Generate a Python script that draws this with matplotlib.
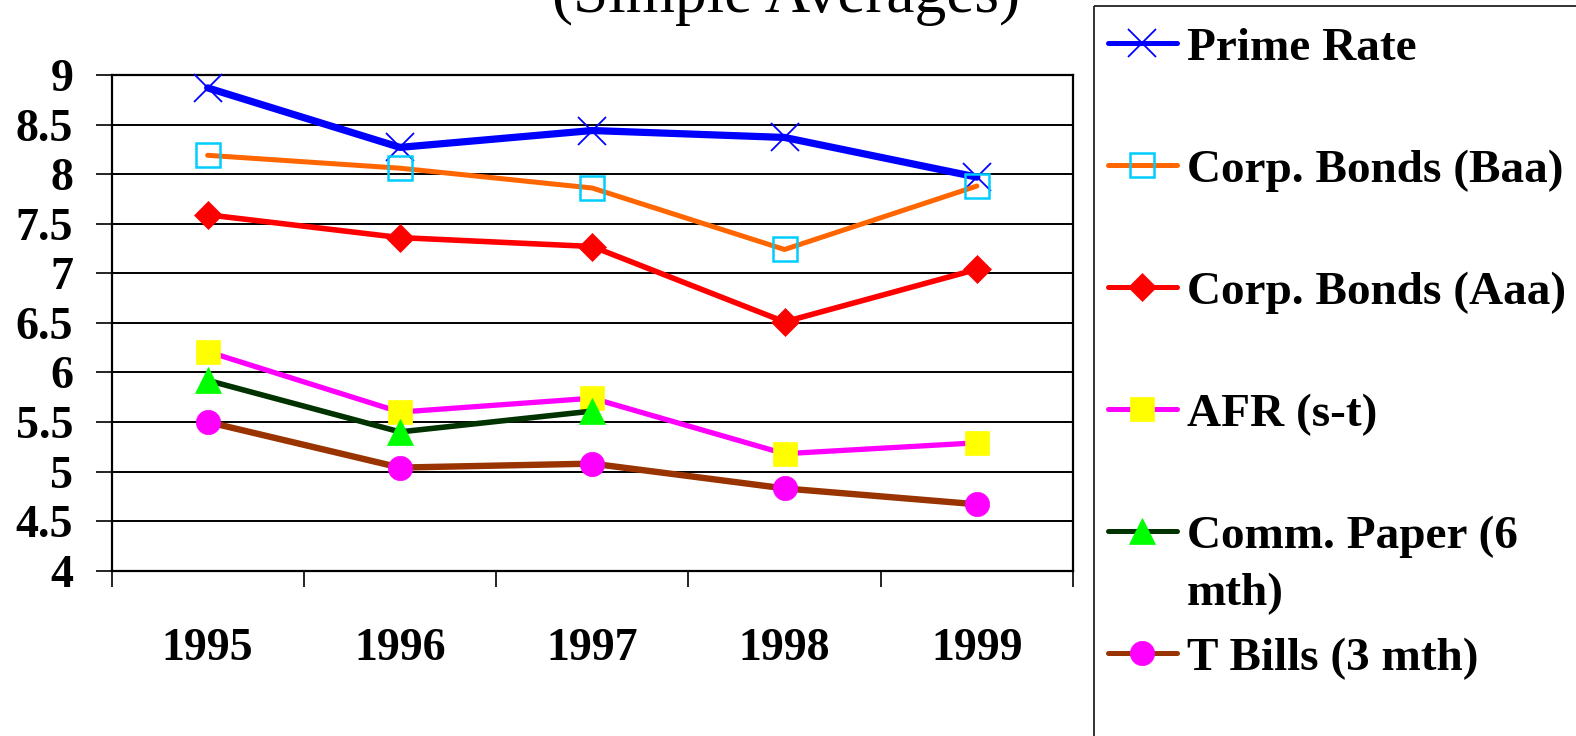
import numpy as np
import matplotlib
matplotlib.use('Agg')
import matplotlib.pyplot as plt
from matplotlib.patches import Rectangle

# data
years = ['1995', '1996', '1997', '1998', '1999']
prime_rate = [8.87, 8.27, 8.44, 8.37, 7.97]
baa_bonds = [8.19, 8.06, 7.86, 7.24, 7.88]
aaa_bonds = [7.59, 7.36, 7.27, 6.51, 7.04]
afr_st = [6.21, 5.60, 5.74, 5.18, 5.29]
comm_paper = [5.92, 5.40, 5.61, np.nan, np.nan]
t_bills = [5.50, 5.04, 5.08, 4.83, 4.67]

labels = ['Prime Rate', 'Corp. Bonds (Baa)', 'Corp. Bonds (Aaa)', 'AFR (s-t)',
          'Comm. Paper (6\nmth)', 'T Bills (3 mth)']
title = '(Simple Averages)'

# style per series: line colour, marker, marker size, face, edge, line width
styles = [
    dict(color='#0000FF', marker='x', ms=19.5, mfc='none', mec='#0000FF', mew=1.3, lw=5.2),
    dict(color='#FF6600', marker='s', ms=17, mfc='none', mec='#00CCFF', mew=1.8, lw=3.6),
    dict(color='#FF0000', marker='D', ms=14, mfc='#FF0000', mec='#FF0000', mew=0.5, lw=4.0),
    dict(color='#FF00FF', marker='s', ms=17.5, mfc='#FFFF00', mec='#FFFF00', mew=0.5, lw=3.8),
    dict(color='#003300', marker='^', ms=18.5, mfc='#00FF00', mec='#00FF00', mew=0.5, lw=4.0),
    dict(color='#993300', marker='o', ms=17.5, mfc='#FF00FF', mec='#FF00FF', mew=0.5, lw=4.6),
]
series = [prime_rate, baa_bonds, aaa_bonds, afr_st, comm_paper, t_bills]

W, H = 1576, 736
fig = plt.figure(figsize=(W / 100, H / 100), dpi=100)
fig.patch.set_facecolor('white')

ax = fig.add_axes([111.5 / W, 1 - 570.7 / H, (1073 - 111.5) / W, (570.7 - 75) / H])
x = np.arange(len(years))
for i, (vals, st) in enumerate(zip(series, styles)):
    ax.plot(x, vals, color=st['color'], lw=st['lw'], marker=st['marker'],
            ms=st['ms'], mfc=st['mfc'], mec=st['mec'], mew=st['mew'],
            solid_capstyle='round', solid_joinstyle='round', zorder=3 + i,
            clip_on=False)

ax.set_xlim(-0.5, len(years) - 0.5)
ax.set_ylim(4, 9)
ax.set_yticks(np.arange(4, 9.01, 0.5))
ax.set_yticklabels(['4', '4.5', '5', '5.5', '6', '6.5', '7', '7.5', '8', '8.5', '9'])
ax.yaxis.grid(True, color='black', lw=1.4)
ax.set_axisbelow(True)

ax.set_xticks(x)
ax.set_xticklabels(years)
ax.set_xticks(np.arange(-0.5, len(years), 1.0), minor=True)
ax.tick_params(axis='x', which='major', length=0, pad=41)
ax.tick_params(axis='x', which='minor', length=11.5, width=1.2, direction='out')
ax.tick_params(axis='y', length=11.5, width=1.2, pad=16, direction='out')

for lab in ax.get_xticklabels() + ax.get_yticklabels():
    lab.set_fontfamily('Liberation Serif')
    lab.set_fontweight('bold')
    lab.set_fontsize(33)

for sp in ax.spines.values():
    sp.set_color('black')
    sp.set_linewidth(1.6)

# title, cut off at the top edge as in the source
fig.text(786.5 / W, 1 - 12.5 / H, title, ha='center', va='baseline',
         fontfamily='Liberation Serif', fontsize=45.5)

# legend box, drawn in pixel coordinates
lax = fig.add_axes([0, 0, 1, 1])
lax.set_xlim(0, W)
lax.set_ylim(H, 0)
lax.axis('off')
lax.add_patch(Rectangle((1094, 6), 600, 800, fill=False, ec='#222222', lw=1.3))

row_y = [42.7, 164.8, 286.9, 409, 531, 653]
for lab, st, ry in zip(labels, styles, row_y):
    lax.plot([1108, 1177], [ry, ry], color=st['color'], lw=3.6,
             solid_capstyle='round')
    lax.plot([1142.5], [ry], marker=st['marker'], ms=st['ms'], mfc=st['mfc'],
             mec=st['mec'], mew=st['mew'], ls='none')
    for k, part in enumerate(lab.split('\n')):
        lax.text(1187, ry + 17.5 + 57 * k, part, ha='left', va='baseline',
                 fontfamily='Liberation Serif', fontweight='bold', fontsize=34)

fig.savefig('out.png', dpi=100)
